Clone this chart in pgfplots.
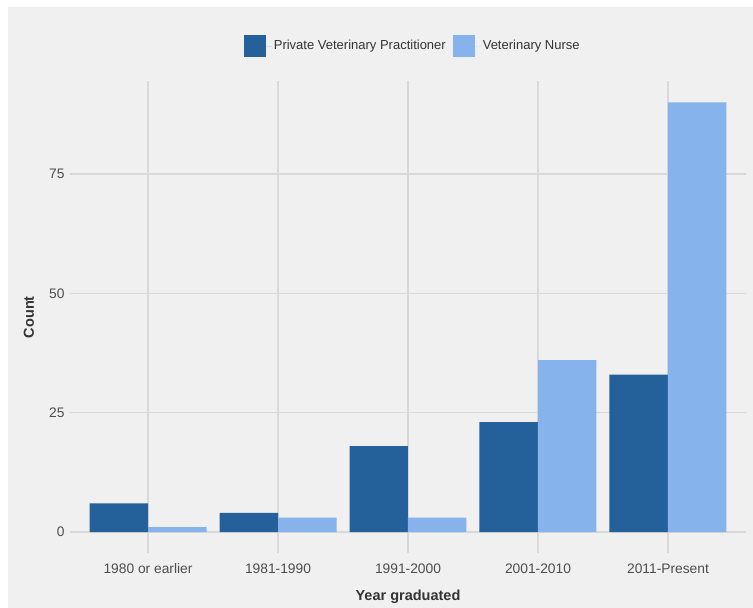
\documentclass[border=0pt]{standalone}
\usepackage{pgfplots}
\pgfplotsset{compat=1.18}
\usepackage{fontspec}
\setmainfont{Liberation Sans}
\definecolor{bg}{HTML}{F0F0F0}
\definecolor{gridc}{HTML}{D9D9D9}
\definecolor{darkb}{HTML}{24619B}
\definecolor{lightb}{HTML}{86B3EC}
\definecolor{tickc}{HTML}{4D4D4D}
\definecolor{titlec}{HTML}{333333}
\begin{document}
\begin{tikzpicture}[x=1pt,y=1pt]
\fill[white] (0,0) rectangle (753,608);
\fill[bg] (8,0) rectangle (753,601);
\begin{axis}[
  at={(70pt,54.5pt)}, anchor=south west,
  scale only axis, width=676pt, height=472.5pt,
  xmin=-0.6, xmax=4.6, ymin=-4.5, ymax=94.5,
  ybar=0pt, bar width=0.45,
  xtick={0,1,2,3,4},
  xticklabels={1980 or earlier,1981-1990,1991-2000,2001-2010,2011-Present},
  ytick={0,25,50,75},
  grid=major,
  major grid style={color=gridc, line width=1.3pt},
  axis line style={draw=none},
  tick style={draw=none},
  /pgf/number format/assume math mode=true,
  tick label style={font=\fontsize{13.8}{16}\selectfont, text=tickc},
  xticklabel style={yshift=-2pt, text height=10pt, text depth=3pt},
  yticklabel style={xshift=-2pt},
  xlabel={Year graduated}, ylabel={Count},
  every axis x label/.style={at={(axis description cs:0.5,-0.092)}, anchor=center, font=\fontsize{14.5}{17}\bfseries, text=titlec},
  every axis y label/.style={at={(axis description cs:-0.0607,0.5)}, rotate=90, anchor=center, font=\fontsize{14.5}{17}\bfseries, text=titlec},
  legend columns=2,
  legend style={at={(axis description cs:0.507,1.074)}, anchor=center, draw=none, fill=none,
    font=\fontsize{13}{15}\selectfont, text=titlec,
    /tikz/every even column/.append style={column sep=5pt}},
  legend image code/.code={\fill[#1] (0pt,-11pt) rectangle (22pt,11pt); \path (0pt,0pt) -- (28pt,0pt);},
]
\addplot[draw=none, fill=darkb, bar shift=-0.225] coordinates {(0,6) (1,4) (2,18) (3,23) (4,33)};
\addplot[draw=none, fill=lightb, bar shift=0.225] coordinates {(0,1) (1,3) (2,3) (3,36) (4,90)};
\legend{Private Veterinary Practitioner, Veterinary Nurse}
\end{axis}
\pgfresetboundingbox
\useasboundingbox (0,0) rectangle (753,608);
\end{tikzpicture}
\end{document}
